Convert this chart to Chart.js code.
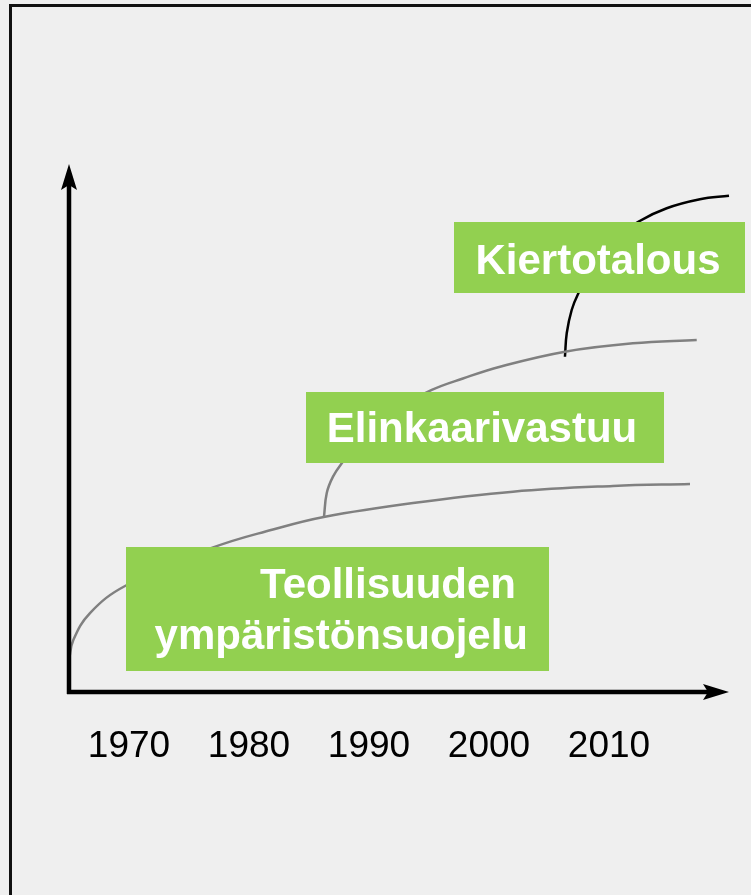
<!DOCTYPE html>
<html>
<head>
<meta charset="utf-8">
<script src="https://cdn.jsdelivr.net/npm/chart.js@4"></script>
<style>
  html, body { margin: 0; padding: 0; background: #efefef; }
  #wrap { position: relative; width: 751px; height: 895px; }
</style>
</head>
<body>
<div id="wrap"><canvas id="chart" width="751" height="895"></canvas></div>
<script>
// vuosiakseli
const tickYears = [1970, 1980, 1990, 2000, 2010];

// käyrät: vuosi ja taso (0-100)
const teollisuusYears = [1965.0, 1965.36, 1966.75, 1969.67, 1976.89, 1982.0, 1986.33, 1993.67, 2002.0, 2010.33, 2016.75];
const teollisuusLevel = [6.06, 9.85, 14.96, 20.08, 27.27, 30.78, 33.20, 35.80, 37.94, 39.02, 39.39];

const elinkaariYears = [1986.25, 1986.48, 1987.0, 1987.73, 1989.42, 1991.92, 1995.23, 1997.83, 2000.92, 2006.33, 2012.0, 2017.31];
const elinkaariLevel = [33.20, 37.69, 40.78, 43.31, 48.11, 53.03, 57.20, 59.38, 61.61, 64.45, 66.04, 66.67];

const kiertoYears = [2006.33, 2006.48, 2006.89, 2007.42, 2008.83, 2010.33, 2012.44, 2014.81, 2017.58, 2020.0];
const kiertoLevel = [63.50, 67.99, 72.35, 75.38, 81.44, 85.61, 89.07, 91.61, 93.31, 93.99];

// laatikoiden tekstit
const stageLabels = ['Teollisuuden', 'ympäristönsuojelu', 'Elinkaarivastuu', 'Kiertotalous'];

const toPoints = (xs, ys) => xs.map((x, i) => ({ x: x, y: ys[i] }));

// tausta, kehys, nuolet ja vihreät laatikot
const diagramPlugin = {
  id: 'diagram',
  beforeDraw(chart) {
    const ctx = chart.ctx;
    ctx.save();
    ctx.fillStyle = '#efefef';
    ctx.fillRect(0, 0, chart.width, chart.height);
    ctx.strokeStyle = '#111';
    ctx.lineWidth = 3;
    ctx.strokeRect(10.5, 5.5, 800, 950);
    ctx.restore();
  },
  afterDatasetsDraw(chart) {
    const ctx = chart.ctx;
    const a = chart.chartArea;
    ctx.save();
    // akselit
    ctx.strokeStyle = '#000';
    ctx.fillStyle = '#000';
    ctx.lineWidth = 4.5;
    ctx.beginPath();
    ctx.moveTo(a.left, a.bottom + 2);
    ctx.lineTo(a.left, a.top + 20);
    ctx.moveTo(a.left - 2, a.bottom);
    ctx.lineTo(a.right - 20, a.bottom);
    ctx.stroke();
    // nuolenkärjet
    ctx.beginPath();
    ctx.moveTo(a.left, a.top);
    ctx.lineTo(a.left + 8, a.top + 26);
    ctx.lineTo(a.left, a.top + 21);
    ctx.lineTo(a.left - 8, a.top + 26);
    ctx.closePath();
    ctx.fill();
    ctx.beginPath();
    ctx.moveTo(a.right, a.bottom);
    ctx.lineTo(a.right - 26, a.bottom - 8);
    ctx.lineTo(a.right - 21, a.bottom);
    ctx.lineTo(a.right - 26, a.bottom + 8);
    ctx.closePath();
    ctx.fill();

    // laatikot
    ctx.fillStyle = '#92d050';
    ctx.fillRect(126, 547, 423, 124);
    ctx.fillRect(306, 392, 358, 71);
    ctx.fillRect(454, 222, 291, 71);

    ctx.fillStyle = '#fff';
    ctx.font = 'bold 42px "Liberation Sans", Arial, sans-serif';
    ctx.textBaseline = 'alphabetic';
    ctx.textAlign = 'right';
    ctx.fillText(stageLabels[0], 516, 598);
    ctx.fillText(stageLabels[1], 528, 649);
    ctx.textAlign = 'center';
    ctx.fillText(stageLabels[2], 482, 442);
    ctx.fillText(stageLabels[3], 598, 274);
    ctx.restore();
  }
};

new Chart(document.getElementById('chart'), {
  type: 'scatter',
  data: {
    datasets: [{
      data: toPoints(teollisuusYears, teollisuusLevel),
      borderColor: '#808080',
      borderWidth: 2.5
    }, {
      data: toPoints(elinkaariYears, elinkaariLevel),
      borderColor: '#808080',
      borderWidth: 2.5
    }, {
      data: toPoints(kiertoYears, kiertoLevel),
      borderColor: '#000',
      borderWidth: 2.5
    }]
  },
  options: {
    responsive: false,
    animation: false,
    showLine: true,
    elements: { point: { radius: 0 }, line: { tension: 0.4, fill: false } },
    datasets: { scatter: { clip: false } },
    layout: { padding: { left: 69, top: 164, right: 22, bottom: 0 } },
    plugins: { legend: { display: false }, tooltip: { enabled: false } },
    scales: {
      x: {
        type: 'linear',
        min: 1965,
        max: 2020,
        grid: { display: false, drawTicks: false },
        border: { display: false },
        afterBuildTicks: s => { s.ticks = tickYears.map(v => ({ value: v })); },
        afterFit: s => { s.height = 203; },
        ticks: {
          color: '#000',
          padding: 33,
          maxRotation: 0,
          font: { family: '"Liberation Sans", Arial, sans-serif', size: 37 },
          callback: v => String(v)
        }
      },
      y: {
        min: 0,
        max: 100,
        display: false
      }
    }
  },
  plugins: [diagramPlugin]
});
</script>
</body>
</html>
